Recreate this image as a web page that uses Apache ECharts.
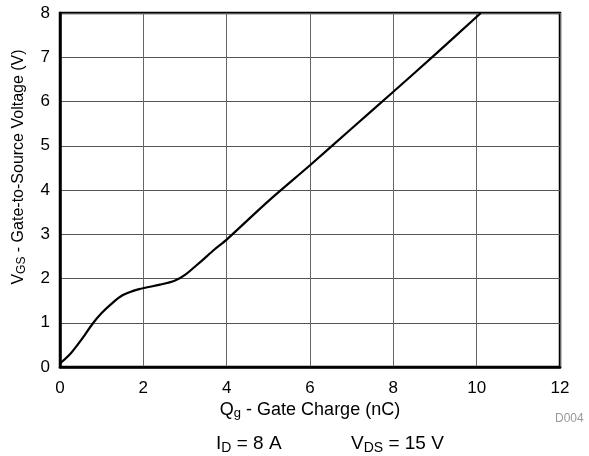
<!DOCTYPE html>
<html><head><meta charset="utf-8">
<script src="https://cdn.jsdelivr.net/npm/echarts@6/dist/echarts.min.js"></script>
<style>html,body{margin:0;padding:0;background:#fff}#c{width:589px;height:456px}</style>
</head><body><div id="c"></div>
<script>
const qg = [0, 0.25, 0.5, 0.8, 1.0, 1.2, 1.5, 1.9, 2.4, 2.75, 3.0, 3.4, 3.7, 4.0, 5.0, 6.0, 7.0, 8.0, 9.0, 10.1];
const vgs = [0.08, 0.3, 0.6, 1.0, 1.22, 1.4, 1.62, 1.76, 1.86, 1.95, 2.08, 2.4, 2.65, 2.88, 3.75, 4.56, 5.39, 6.22, 7.06, 8.0];
const xTicks = [0, 2, 4, 6, 8, 10, 12];
const yTicks = [0, 1, 2, 3, 4, 5, 6, 7, 8];

const font = 'Liberation Sans, Arial, sans-serif';
const rich = (n, s, pad) => ({
  n: { fontSize: n, fontFamily: font, fill: '#000' },
  s: { fontSize: s, fontFamily: font, fill: '#000', verticalAlign: 'bottom', padding: [pad, 0, 0, 0] }
});
const chart = echarts.init(document.getElementById('c'));
chart.setOption({
  animation: false,
  grid: { left: 60, right: 29, top: 13, bottom: 89, show: true, borderColor: '#000', borderWidth: 2.5 },
  xAxis: {
    type: 'value', min: xTicks[0], max: xTicks[xTicks.length - 1], interval: 2,
    axisLine: { show: true, lineStyle: { color: '#000', width: 2.5 } },
    axisTick: { show: false },
    axisLabel: { color: '#000', fontSize: 17, fontFamily: font, margin: 13 },
    splitLine: { show: true, lineStyle: { color: '#666', width: 1 } }
  },
  yAxis: {
    type: 'value', min: yTicks[0], max: yTicks[yTicks.length - 1], interval: 1,
    axisLine: { show: true, lineStyle: { color: '#000', width: 2.5 } },
    axisTick: { show: false },
    axisLabel: { color: '#000', fontSize: 17, fontFamily: font, margin: 10 },
    splitLine: { show: true, lineStyle: { color: '#555', width: 1 } }
  },
  series: [{
    type: 'line', data: qg.map((q, i) => [q, vgs[i]]), smooth: 0.3, showSymbol: false,
    lineStyle: { color: '#000', width: 2.2 }
  }],
  graphic: [
    { type: 'text', x: 19, y: 167, rotation: Math.PI / 2,
      style: { text: '{n|V}{s|GS}{n| - Gate-to-Source Voltage (V)}', align: 'center', verticalAlign: 'middle', rich: rich(16, 12, 6) } },
    { type: 'text', x: 310, y: 410,
      style: { text: '{n|Q}{s|g}{n| - Gate Charge (nC)}', align: 'center', verticalAlign: 'middle', rich: rich(18, 13, 7) } },
    { type: 'text', x: 216, y: 444,
      style: { text: '{n|I}{s|D}{n| = 8 A}', align: 'left', verticalAlign: 'middle', rich: rich(19, 14, 8) } },
    { type: 'text', x: 351, y: 444,
      style: { text: '{n|V}{s|DS}{n| = 15 V}', align: 'left', verticalAlign: 'middle', rich: rich(19, 14, 8) } },
    { type: 'text', x: 555, y: 419,
      style: { text: 'D004', fontSize: 12, fontFamily: font, fill: '#999', align: 'left', verticalAlign: 'middle' } }
  ]
});
</script></body></html>
